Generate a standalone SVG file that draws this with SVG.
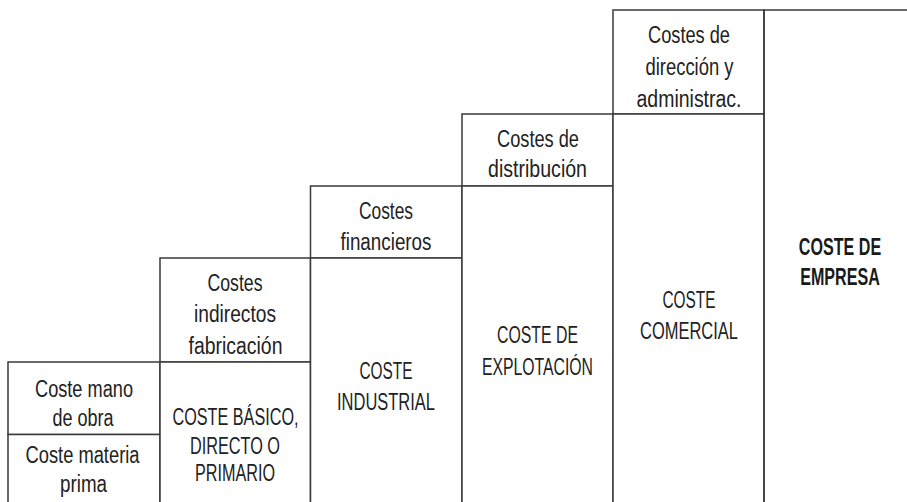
<svg xmlns="http://www.w3.org/2000/svg" width="907" height="502" viewBox="0 0 907 502">
<style>
  .box { fill: #ffffff; stroke: #3a3a3a; stroke-width: 1.5; }
  .edge { fill: none; stroke: #3a3a3a; stroke-width: 1.5; }
  .t { font-family: "Liberation Sans", Arial, sans-serif; font-size: 23px; fill: #222222; text-anchor: middle; }
  .b { font-weight: bold; fill: #1a1a1a; }
</style>
<rect x="0" y="0" width="907" height="502" fill="#ffffff"/>
<g id="connectors"></g>
<g id="n-mano-obra">
  <rect class="box" x="8" y="362" width="152" height="72.5"/>
  <text class="t" x="84" y="397.3" textLength="98" lengthAdjust="spacingAndGlyphs">Coste mano</text>
  <text class="t" x="83" y="425.7" textLength="61" lengthAdjust="spacingAndGlyphs">de obra</text>
</g>
<g id="n-materia-prima">
  <rect class="box" x="8" y="434.5" width="152" height="70"/>
  <text class="t" x="82.5" y="463.3" textLength="114" lengthAdjust="spacingAndGlyphs">Coste materia</text>
  <text class="t" x="83.5" y="492" textLength="47" lengthAdjust="spacingAndGlyphs">prima</text>
</g>
<g id="n-indirectos">
  <rect class="box" x="160" y="258" width="150.5" height="104"/>
  <text class="t" x="235" y="291.3" textLength="55" lengthAdjust="spacingAndGlyphs">Costes</text>
  <text class="t" x="235" y="322" textLength="82" lengthAdjust="spacingAndGlyphs">indirectos</text>
  <text class="t" x="235.5" y="353.7" textLength="94" lengthAdjust="spacingAndGlyphs">fabricación</text>
</g>
<g id="n-basico">
  <rect class="box" x="160" y="362" width="150.5" height="142"/>
  <text class="t" x="235.5" y="424.7" textLength="126" lengthAdjust="spacingAndGlyphs">COSTE BÁSICO,</text>
  <text class="t" x="235" y="454" textLength="90" lengthAdjust="spacingAndGlyphs">DIRECTO O</text>
  <text class="t" x="235" y="481.3" textLength="80" lengthAdjust="spacingAndGlyphs">PRIMARIO</text>
</g>
<g id="n-financieros">
  <rect class="box" x="310.5" y="186" width="151.5" height="72"/>
  <text class="t" x="386" y="219.3" textLength="54" lengthAdjust="spacingAndGlyphs">Costes</text>
  <text class="t" x="386" y="250" textLength="91" lengthAdjust="spacingAndGlyphs">financieros</text>
</g>
<g id="n-industrial">
  <rect class="box" x="310.5" y="258" width="151.5" height="246"/>
  <text class="t" x="386" y="379.3" textLength="53" lengthAdjust="spacingAndGlyphs">COSTE</text>
  <text class="t" x="386" y="410" textLength="98" lengthAdjust="spacingAndGlyphs">INDUSTRIAL</text>
</g>
<g id="n-distribucion">
  <rect class="box" x="462" y="114" width="151" height="72"/>
  <text class="t" x="538" y="147.3" textLength="82" lengthAdjust="spacingAndGlyphs">Costes de</text>
  <text class="t" x="537.5" y="177.3" textLength="99" lengthAdjust="spacingAndGlyphs">distribución</text>
</g>
<g id="n-explotacion">
  <rect class="box" x="462" y="186" width="151" height="318"/>
  <text class="t" x="537.5" y="343" textLength="81" lengthAdjust="spacingAndGlyphs">COSTE DE</text>
  <text class="t" x="537.5" y="374.7" textLength="111" lengthAdjust="spacingAndGlyphs">EXPLOTACIÓN</text>
</g>
<g id="n-direccion">
  <rect class="box" x="613" y="10" width="151" height="104"/>
  <text class="t" x="689" y="43.3" textLength="82" lengthAdjust="spacingAndGlyphs">Costes de</text>
  <text class="t" x="689.5" y="75" textLength="88" lengthAdjust="spacingAndGlyphs">dirección y</text>
  <text class="t" x="689" y="106.7" textLength="105" lengthAdjust="spacingAndGlyphs">administrac.</text>
</g>
<g id="n-comercial">
  <rect class="box" x="613" y="114" width="151" height="390"/>
  <text class="t" x="689" y="307.7" textLength="53" lengthAdjust="spacingAndGlyphs">COSTE</text>
  <text class="t" x="689" y="339" textLength="98" lengthAdjust="spacingAndGlyphs">COMERCIAL</text>
</g>
<g id="n-empresa">
  <path class="edge" d="M764,502 V10 H907"/>
  <text class="t b" transform="translate(840,255) scale(0.7,1)" x="0" y="0">COSTE DE</text>
  <text class="t b" transform="translate(840,285) scale(0.7,1)" x="0" y="0">EMPRESA</text>
</g>
</svg>
